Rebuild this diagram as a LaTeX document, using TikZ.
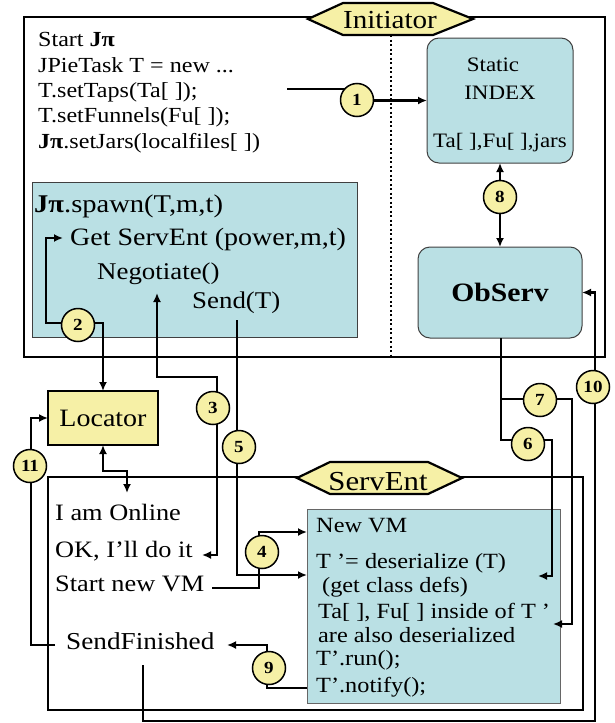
\documentclass[tikz,border=0pt]{standalone}
\usepackage{fontspec}
\setmainfont{Liberation Serif}[FakeStretch=1.12]
\usetikzlibrary{arrows.meta}
\definecolor{boxcyan}{RGB}{186,224,228}
\definecolor{hexyellow}{RGB}{246,240,166}
\newcommand\myfs[1]{\fontsize{#1}{#1}\selectfont}
\tikzset{
  frame/.style={draw=black, line width=2.4pt, rectangle, outer sep=0pt, inner sep=0pt},
  cyanbox/.style={draw=black!75, fill=boxcyan, line width=1pt, rectangle, outer sep=0pt, inner sep=0pt},
  conn/.style={line width=2.2pt, line join=miter},
  arr/.style={-{Latex[length=9pt,width=8pt]}},
  darr/.style={{Latex[length=9pt,width=8pt]}-{Latex[length=9pt,width=8pt]}},
  num/.style={circle, draw, fill=hexyellow, line width=1.5pt, minimum size=33pt, inner sep=0pt, font=\myfs{17}\bfseries},
  txt/.style={anchor=base west, inner sep=0pt},
  ctxt/.style={anchor=base, inner sep=0pt},
  hexa/.style={draw=black, fill=hexyellow, line width=2.2pt, line join=miter},
}
\begin{document}
\begin{tikzpicture}[x=1pt,y=-1pt]
\useasboundingbox (0,0) rectangle (615,723);
% outer frames
\node[frame, minimum width=581pt, minimum height=340pt] (initframe) at (314.5,187) {};
\node[frame, minimum width=535pt, minimum height=233pt] (servframe) at (315.5,593.5) {};
% dotted divider
\draw[line width=1.8pt, dash pattern=on 2pt off 2.5pt] (391,35) -- (391,357);
% boxes
\node[cyanbox, minimum width=325pt, minimum height=155pt] (spawn) at (194.5,259.5) {};
\node[cyanbox, rounded corners=12pt, minimum width=146pt, minimum height=125pt] (static) at (500,100.5) {};
\node[cyanbox, rounded corners=12pt, minimum width=164pt, minimum height=91pt, font=\myfs{26.5}\bfseries] (observ) at (500,292.5) {ObServ};
\node[draw=black, fill=hexyellow, line width=2.2pt, minimum width=110pt, minimum height=54pt, inner sep=0pt, outer sep=0pt, font=\myfs{25}] (locator) at (103,418) {Locator};
\node[cyanbox, draw=black!60, minimum width=253pt, minimum height=194pt] (newvm) at (433.5,606) {};
% initiator texts
\begin{scope}[every node/.style={txt, font=\myfs{21.5}}]
\node (l1) at (38,46) {Start \textbf{Jπ}};
\node (l2) at (38,72) {JPieTask T = new ...};
\node (l3) at (38,97) {T.setTaps(Ta[ ]);};
\node (l4) at (38,122) {T.setFunnels(Fu[ ]);};
\node (l5) at (38,148) {\textbf{Jπ}.setJars(localfiles[ ])};
\end{scope}
\node[txt, font=\myfs{25.5}] (sp0) at (34,212) {\textbf{Jπ}.spawn(T,m,t)};
\node[txt, font=\myfs{25}] (sp1) at (70,245) {Get ServEnt (power,m,t)};
\begin{scope}[every node/.style={txt, font=\myfs{24}}]
\node (sp2) at (97,279) {Negotiate()};
\node (sp3) at (192,308) {Send(T)};
\end{scope}
\begin{scope}[every node/.style={ctxt, font=\myfs{20.5}}]
\node (st1) at (493,71) {Static};
\node (st2) at (500,99) {INDEX};
\node (st3) at (500,147) {Ta[ ],Fu[ ],jars};
\end{scope}
% servent texts
\begin{scope}[every node/.style={txt, font=\myfs{23.5}}]
\node (s1) at (55,520) {I am Online};
\node (s2) at (55,557) {OK, I'll do it};
\node (s3) at (55,591) {Start new VM};
\end{scope}
\node[txt, font=\myfs{24.3}] (s4) at (66,649) {SendFinished};
\begin{scope}[every node/.style={txt, font=\myfs{21.7}}]
\node (v1) at (316,532) {New VM};
\node (v2) at (316,568) {T ’= deserialize (T)};
\node (v3) at (322,592) {(get class defs)};
\node (v4) at (318,618) {Ta[ ], Fu[ ] inside of T ’};
\node (v5) at (318,642) {are also deserialized};
\node (v6) at (316,665) {T’.run();};
\node (v7) at (316,692) {T’.notify();};
\end{scope}
% connectors
\draw[conn, arr] (287,89) -- (357,89) -- (357,100.5) -- (static.west);
\draw[conn, darr] (static.south) -- (observ.north);
\draw[conn, darr] (63,238) -- (46,238) -- (46,323) -- (103,323) -- (locator.north);
\draw[conn, darr] (157,293) -- (157,377) -- (217,377) -- (217,555) -- (202,555);
\draw[conn, arr] (237,320) -- (237,575) -- (307,575);
\draw[conn, arr] (212,588) -- (259,588) -- (259,532) -- (307,532);
\draw[conn, arr] (501,338) -- (501,440) -- (552,440) -- (552,576) -- (538,576);
\draw[conn, arr] (501,399) -- (572,399) -- (572,624) -- (553,624);
\draw[conn, arr] (307,688) -- (267,688) -- (267,645) -- (227,645);
\draw[conn, arr] (143,665) -- (143,721) -- (595,721) -- (595,292.5) -- (observ.east);
\draw[conn, arr] (55,645) -- (31,645) -- (31,418) -- (locator.west);
\draw[conn, darr] (locator.south) -- (103,471) -- (127,471) -- (127,493);
% numbered circles
\node[num] (n1) at (357,100) {1};
\node[num] (n2) at (78,325) {2};
\node[num] (n3) at (213,408) {3};
\node[num] (n4) at (262,552) {4};
\node[num] (n5) at (239,447) {5};
\node[num] (n6) at (528,444) {6};
\node[num] (n7) at (540,400) {7};
\node[num] (n8) at (500,197) {8};
\node[num] (n9) at (269,668) {9};
\node[num] (n10) at (593,387) {10};
\node[num] (n11) at (30,466) {11};
% hexagon labels
\draw[hexa] (308,19) -- (343,3) -- (433,3) -- (473,19) -- (433,35) -- (343,35) -- cycle;
\node[ctxt, font=\myfs{26}] (initlbl) at (390,28) {Initiator};
\draw[hexa] (297,478) -- (330,462) -- (428,462) -- (462,478) -- (428,494) -- (330,494) -- cycle;
\node[ctxt, font=\myfs{27.5}] (servlbl) at (378,490) {ServEnt};
\end{tikzpicture}
\end{document}
